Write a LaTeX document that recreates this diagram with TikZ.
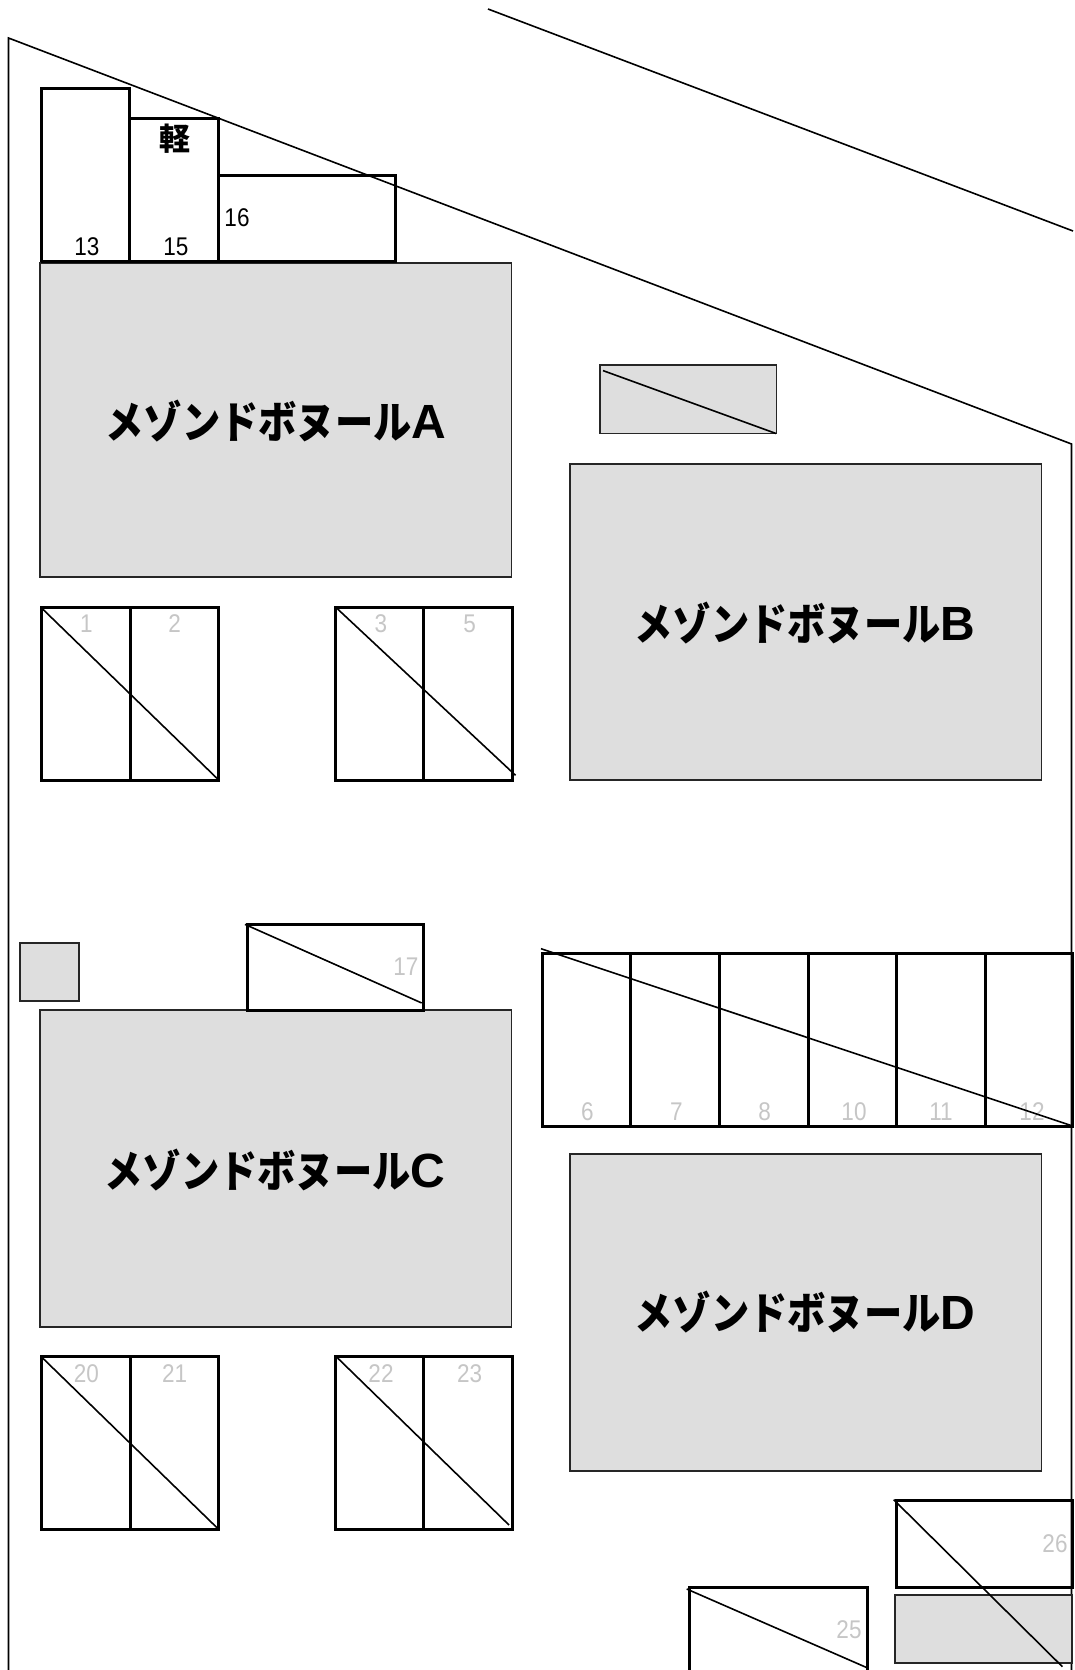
\documentclass[tikz,border=0pt]{standalone}
\usepackage{fontspec}
\newfontfamily\cjkfont{Noto Sans CJK JP Black}[FakeStretch=0.87]
\newfontfamily\keifont{Noto Sans CJK JP Black}
\newfontfamily\numfont{Liberation Sans}[FakeStretch=0.88]
\newfontfamily\latinbold{Liberation Sans Bold}
\newcommand{\housetext}[1]{{\cjkfont\fontsize{22pt}{24pt}\selectfont メゾンドボヌール}{\latinbold\fontsize{24pt}{26pt}\selectfont #1}}
\tikzset{
  x=0.5pt,y=-0.5pt,
  thinline/.style={draw=black,line width=0.8pt},
  stall/.style={draw=black,line width=1.5pt,line join=miter},
  building/.style={draw=black!85,fill=bldg,line width=0.9pt},
  numlabel/.style={inner sep=0pt,font=\numfont\fontsize{12.8pt}{14pt}\selectfont},
  darknum/.style={numlabel,text=black},
  lightnum/.style={numlabel,text=numgray},
  bldlabel/.style={inner sep=0pt,text=black}
}
\definecolor{bldg}{HTML}{DEDEDE}
\definecolor{numgray}{HTML}{C6C6C6}
\begin{document}
\begin{tikzpicture}
\useasboundingbox (0,0) rectangle (1075,1670);
\clip (0,0) rectangle (1075,1670);
\fill[white] (0,0) rectangle (1075,1670);
% site lines
\draw[thinline] (8.5,1670) -- (8.5,38) -- (1071.5,444) -- (1071.5,1670);
\draw[thinline] (488,9) -- (1073,231);
% buildings
\draw[building] (40.2,263) rectangle (511.5,577);
\draw[building] (570,464.3) rectangle (1041.5,779.6);
\draw[building] (40.2,1009.6) rectangle (511.5,1327);
\draw[building] (570,1153.7) rectangle (1041.5,1471);
\draw[building] (599.6,365.3) rectangle (776.4,433.5);
\draw[thinline] (603,370.6) -- (776,433.5);
\draw[building] (19.7,943) rectangle (78.8,1001);
\draw[building] (895,1594.7) rectangle (1072,1663.3);
\node[bldlabel] (labA) at (276,421) {\housetext{A}};
\node[bldlabel] (labB) at (805,623) {\housetext{B}};
\node[bldlabel] (labC) at (275,1170) {\housetext{C}};
\node[bldlabel] (labD) at (805,1312) {\housetext{D}};
% top stalls
\draw[stall] (41,261.8) -- (41,88.8) -- (129.7,88.8) -- (129.7,261.8);
\draw[stall] (129.7,118.6) -- (218.5,118.6) -- (218.5,261.8);
\draw[stall] (218.5,175.3) -- (395.3,175.3) -- (395.3,261.8) -- (41,261.8);
\node[inner sep=0pt,font=\keifont\fontsize{15.5pt}{18pt}\selectfont] (kei) at (175,138.5) {軽};
\node[darknum] (n13) at (87,247) {13};
\node[darknum] (n15) at (176,247) {15};
\node[darknum] (n16) at (237,218) {16};
% stalls 1 2
\draw[stall] (41.5,607) rectangle (218.3,780.6);
\draw[stall] (130,607) -- (130,780.6);
\draw[thinline] (42.6,609) -- (218.3,779.6);
\node[lightnum] (n1) at (86.3,624) {1};
\node[lightnum] (n2) at (174.7,624) {2};
% stalls 3 5
\draw[stall] (335.5,607) rectangle (512.3,780.6);
\draw[stall] (423.9,607) -- (423.9,780.6);
\draw[thinline] (337.6,609) -- (515.5,775.3);
\node[lightnum] (n3) at (381,624) {3};
\node[lightnum] (n5) at (469.7,624) {5};
% stall 17
\draw[stall] (247,924.4) rectangle (423.9,1010.7);
\draw[thinline] (245,924.4) -- (421.7,1003);
\node[lightnum] (n17) at (405.8,967) {17};
% stalls 6-12
\node[lightnum] (n6) at (587.5,1111.7) {6};
\node[lightnum] (n7) at (676.5,1111.7) {7};
\node[lightnum] (n8) at (764.7,1111.7) {8};
\node[lightnum] (n10) at (854,1111.7) {10};
\node[lightnum] (n11) at (941,1111.7) {11};
\node[lightnum] (n12) at (1032,1111.7) {12};
\draw[stall] (542.6,953.3) rectangle (1072.5,1126);
\foreach \sx in {630.5,719.9,808,896.7,985.7} \draw[stall] (\sx,953.3) -- (\sx,1126);
\draw[thinline] (541,948.7) -- (1071.7,1125.7);
% stalls 20 21
\draw[stall] (41.5,1356.8) rectangle (218.3,1529.3);
\draw[stall] (130,1356.8) -- (130,1529.3);
\draw[thinline] (42.6,1358) -- (218.3,1529);
\node[lightnum] (n20) at (86.3,1374) {20};
\node[lightnum] (n21) at (174.7,1374) {21};
% stalls 22 23
\draw[stall] (335.5,1356.8) rectangle (512.3,1529.3);
\draw[stall] (423.9,1356.8) -- (423.9,1529.3);
\draw[thinline] (337.6,1358) -- (509,1525);
\node[lightnum] (n22) at (381,1374) {22};
\node[lightnum] (n23) at (469.7,1374) {23};
% stall 26
\draw[stall] (896,1500.7) rectangle (1072.5,1587.3);
\draw[thinline] (893.7,1499.7) -- (1062.4,1666.7);
\node[lightnum] (n26) at (1055,1544) {26};
% stall 25
\draw[stall] (689.3,1680) -- (689.3,1587.3) -- (867.3,1587.3) -- (867.3,1680);
\draw[thinline] (686.7,1589) -- (867,1667.7);
\node[lightnum] (n25) at (849,1630) {25};
\end{tikzpicture}
\end{document}
